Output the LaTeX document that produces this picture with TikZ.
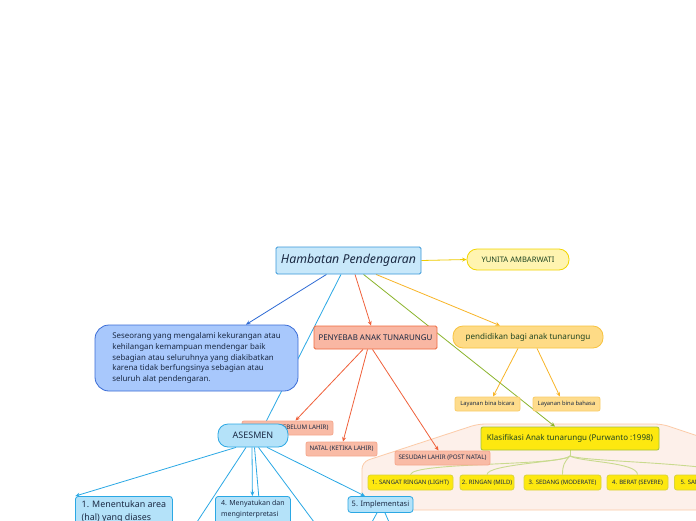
\documentclass[tikz,border=0pt]{standalone}
\usepackage{fontspec}
\setmainfont{Noto Sans}
\usetikzlibrary{arrows.meta}
\pgfdeclarelayer{back}
\pgfdeclarelayer{bg}
\pgfsetlayers{back,bg,main}
\definecolor{hamfill}{HTML}{C8E8FA}\definecolor{hamline}{HTML}{3A98D8}
\definecolor{descfill}{HTML}{A8C8FC}\definecolor{descline}{HTML}{3A6CD6}
\definecolor{asesfill}{HTML}{B4E2F9}\definecolor{asesline}{HTML}{2BA8E4}
\definecolor{penyfill}{HTML}{F9B7A3}\definecolor{penyline}{HTML}{EE6A3E}
\definecolor{subfill}{HTML}{F9BBA6}\definecolor{subline}{HTML}{F6A88E}
\definecolor{pendfill}{HTML}{FEDB86}\definecolor{pendline}{HTML}{F7C23E}
\definecolor{binafill}{HTML}{FEDC8C}\definecolor{binaline}{HTML}{F9CD6A}
\definecolor{klasfill}{HTML}{FDE80F}\definecolor{klasline}{HTML}{A2C23A}
\definecolor{kline}{HTML}{D9D43A}
\definecolor{yunfill}{HTML}{FFF4B0}\definecolor{yunline}{HTML}{F2D500}
\definecolor{regfill}{HTML}{FDF0EA}\definecolor{regline}{HTML}{FCCBA8}
\definecolor{txtdark}{HTML}{1B2A44}\definecolor{txtgreen}{HTML}{1E4420}
\definecolor{cblue}{HTML}{2E6BD5}\definecolor{ccyan}{HTML}{2AA8E5}
\definecolor{cred}{HTML}{F0603A}\definecolor{cgreen}{HTML}{8BB42C}
\definecolor{corange}{HTML}{F8B527}\definecolor{cyellow}{HTML}{EFCB00}
\definecolor{cbranch}{HTML}{C9DA8E}
\begin{document}
\begin{tikzpicture}[x=1pt,y=-1pt,
  bx/.style={draw,line width=0.8pt,inner sep=0pt,align=center,text=txtdark},
  sub/.style={bx,fill=subfill,draw=subline,rounded corners=2pt,minimum height=14pt,font=\fontsize{6.2}{7}\selectfont},
  bina/.style={bx,fill=binafill,draw=binaline,rounded corners=2pt,minimum height=14pt,font=\fontsize{5.8}{7}\selectfont},
  kbox/.style={bx,fill=klasfill,draw=kline,rounded corners=2.5pt,minimum height=15pt,font=\fontsize{6}{7}\selectfont\bfseries,text=txtdark},
  conn/.style={line width=0.8pt},
  arr/.style={conn,-{Stealth[length=4.5pt,width=4pt]}},
  branch/.style={line width=0.9pt,draw=cbranch}]
\useasboundingbox (0,0) rectangle (696,520);
% background and region
\begin{pgfonlayer}{back}
\fill[white] (0,0) rectangle (696,520);
\draw[fill=regfill,draw=regline,line width=0.8pt,rounded corners=7pt]
  (362,510) -- (362,462) -- (478,424) -- (662,424) -- (740,450) -- (740,510) -- cycle;
\end{pgfonlayer}
% nodes
\node[bx,fill=hamfill,draw=hamline,rounded corners=1.5pt,minimum width=145pt,minimum height=27pt,font=\fontsize{12.3}{14}\selectfont\itshape] (ham) at (348.5,260.5) {Hambatan Pendengaran};
\node[bx,fill=yunfill,draw=yunline,rounded corners=10pt,minimum width=102pt,minimum height=21pt,font=\fontsize{7.6}{9}\selectfont,text=txtgreen] (yun) at (518,259.5) {YUNITA AMBARWATI};
\node[bx,fill=descfill,draw=descline,rounded corners=14pt,minimum width=203pt,minimum height=66pt,align=left,font=\fontsize{7.9}{10.6}\selectfont] (desc) at (196.5,358) {Seseorang yang mengalami kekurangan atau\\kehilangan kemampuan mendengar baik\\sebagian atau seluruhnya yang diakibatkan\\karena tidak berfungsinya sebagian atau\\seluruh alat pendengaran.};
\node[bx,fill=penyfill,draw=penyline,rounded corners=1.5pt,minimum width=123pt,minimum height=23pt,font=\fontsize{7.9}{9}\selectfont] (peny) at (375.5,337.5) {PENYEBAB ANAK TUNARUNGU};
\node[bx,fill=pendfill,draw=pendline,rounded corners=10pt,minimum width=150pt,minimum height=22pt,font=\fontsize{8.1}{10}\selectfont,text=txtgreen] (pend) at (528,337) {pendidikan bagi anak tunarungu};
\node[bina,minimum width=65pt] (bicara) at (487.5,404) {Layanan bina bicara};
\node[bina,minimum width=67pt] (bahasa) at (566.5,404) {Layanan bina bahasa};
\node[sub,minimum width=91pt] (sebelum) at (287.5,428) {PRENATAL (SEBELUM LAHIR)};
\node[bx,fill=asesfill,draw=asesline,rounded corners=10pt,minimum width=70pt,minimum height=23pt,font=\fontsize{9}{10}\selectfont] (ases) at (253,435.5) {ASESMEN};
\node[sub,minimum width=71pt] (natal) at (341.5,449) {NATAL (KETIKA LAHIR)};
\node[sub,minimum width=95pt] (sesudah) at (442.5,458) {SESUDAH LAHIR (POST NATAL)};
\node[bx,fill=klasfill,draw=klasline,rounded corners=2pt,minimum width=178pt,minimum height=23pt,font=\fontsize{8}{10}\selectfont,text=txtgreen] (klas) at (570,438.5) {Klasifikasi Anak tunarungu (Purwanto :1998)};
\node[kbox,minimum width=85pt] (k1) at (410.5,482.5) {1. SANGAT RINGAN (LIGHT)};
\node[kbox,minimum width=54pt] (k2) at (487,482.5) {2. RINGAN (MILD)};
\node[kbox,minimum width=77pt] (k3) at (562.5,482.5) {3. SEDANG (MODERATE)};
\node[kbox,minimum width=61pt] (k4) at (637.5,482.5) {4. BERAT (SEVERE)};
\node[kbox,minimum width=100pt,anchor=west] (k5) at (674,482.5) {5. SANGAT BERAT (PROFOUND)};
\node[bx,fill=asesfill,draw=asesline,rounded corners=3pt,anchor=north west,minimum width=97pt,inner xsep=5pt,inner ysep=4pt,align=left,font=\fontsize{8.9}{13}\selectfont] (m1) at (75,496) {1. Menentukan area\\(hal) yang diases\\};
\node[bx,fill=asesfill,draw=asesline,rounded corners=3pt,anchor=north west,minimum width=75pt,inner xsep=3pt,inner ysep=4pt,align=left,font=\fontsize{7}{10.5}\selectfont] (m4) at (215,496) {4. Menyatukan dan\\menginterpretasi\\};
\node[bx,fill=asesfill,draw=asesline,rounded corners=3pt,minimum width=65pt,minimum height=16pt,font=\fontsize{7.5}{9}\selectfont] (m5) at (380.5,504.5) {5. Implementasi};
% free ends
\coordinate (o1) at (197,522);
\coordinate (o2) at (261,522);
\coordinate (o3) at (314,522);
\coordinate (o4) at (372,522);
\coordinate (o5) at (389,522);
\coordinate (kt) at (570,456);
% connectors
\begin{pgfonlayer}{bg}
\draw[arr,cyellow] (ham.east) -- (yun.west);
\draw[arr,cblue] ([xshift=-22pt]ham.south) -- ([xshift=49.5pt]desc.north);
\draw[conn,ccyan] ([xshift=-7.5pt]ham.south) -- ([xshift=12pt]ases.north);
\draw[arr,cred] ([xshift=6.5pt]ham.south) -- ([xshift=-4.5pt]peny.north);
\draw[arr,cgreen] ([xshift=15pt]ham.south) -- ([xshift=-15pt]klas.north);
\draw[arr,corange] ([xshift=27.5pt]ham.south) -- ([xshift=-28pt]pend.north);
\draw[arr,cred] ([xshift=-12.5pt]peny.south) -- ([xshift=8pt]sebelum.north);
\draw[arr,cred] ([xshift=-8pt]peny.south) -- ([xshift=1.5pt]natal.north);
\draw[arr,cred] ([xshift=-3pt]peny.south) -- ([xshift=-4pt]sesudah.north);
\draw[arr,corange] ([xshift=-10pt]pend.south) -- ([xshift=5.5pt]bicara.north);
\draw[arr,corange] ([xshift=9pt]pend.south) -- ([xshift=-6.5pt]bahasa.north);
\draw[arr,ccyan] ([xshift=-17pt]ases.south) -- ([xshift=-48.5pt]m1.north);
\draw[conn,ccyan] ([xshift=-7pt]ases.south) -- (o1);
\draw[arr,ccyan] ([xshift=-1pt]ases.south) -- ([xshift=-0.5pt]m4.north);
\draw[conn,ccyan] ([xshift=1.5pt]ases.south) -- (o2);
\draw[conn,ccyan] ([xshift=5.5pt]ases.south) -- (o3);
\draw[arr,ccyan] ([xshift=14pt]ases.south) -- ([xshift=-15.5pt]m5.north);
\draw[conn,ccyan] ([xshift=-3.5pt]m5.south) -- (o4);
\draw[conn,ccyan] ([xshift=4.5pt]m5.south) -- (o5);
\draw[branch] (klas.south) -- (kt);
\draw[branch] (kt) .. controls (560,466) and (412,462) .. (k1.north);
\draw[branch] (kt) .. controls (566,462) and (487,464) .. (k2.north);
\draw[branch] (kt) .. controls (564,462) and (562.5,466) .. (k3.north);
\draw[branch] (kt) .. controls (580,462) and (637.5,462) .. (k4.north);
\draw[branch] (kt) .. controls (590,462) and (700,462) .. ([xshift=20pt]k5.north);
\end{pgfonlayer}
\end{tikzpicture}
\end{document}
